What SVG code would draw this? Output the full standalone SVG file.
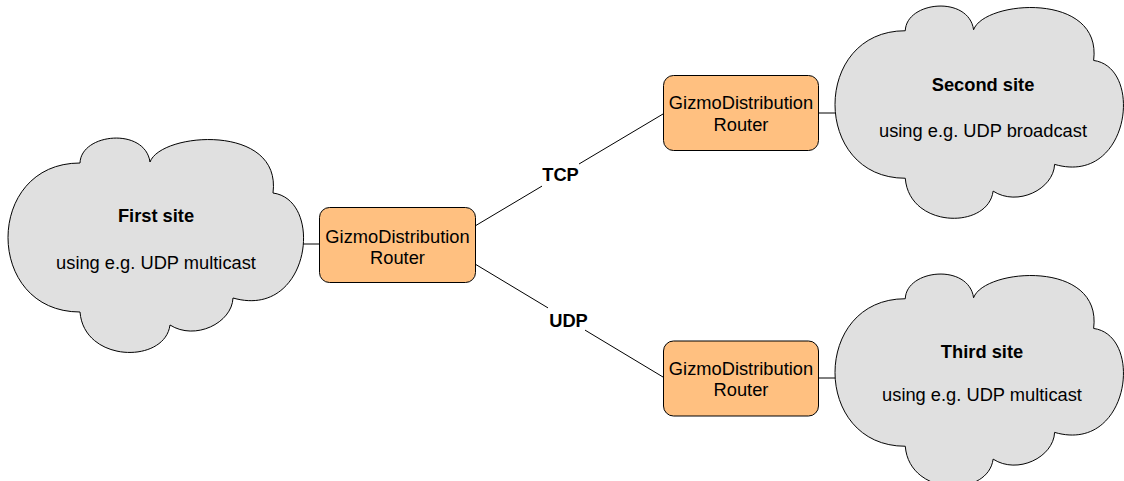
<svg xmlns="http://www.w3.org/2000/svg" width="1124" height="481" viewBox="0 0 1124 481">
  <defs>
    <!-- cloud outline, drawn in the coordinates of the first site -->
    <path id="cloud" d="M80,163 C81,133 145,127 150,162 C161,132 282,123 273,193 C325,200 310,320 233,298 C232,323 195,341 170,325 C165,364 84,363 80,312 C-16,312 -16,163 80,163 Z"/>
  </defs>
  <style>
    .cloud { fill: #e0e0e0; stroke: #000; stroke-width: 1; vector-effect: non-scaling-stroke; }
    .router { fill: #ffc080; stroke: #000; stroke-width: 1; }
    .link { fill: none; stroke: #000; stroke-width: 1; }
    text { font-family: "Liberation Sans", Arial, sans-serif; font-size: 18.3px; fill: #000; text-anchor: middle; }
    .title { font-weight: bold; }
  </style>
  <rect width="1124" height="481" fill="#fff"/>

  <g id="connectors">
    <path class="link" d="M303,244 H319"/>
    <path class="link" d="M475,226 L542,186.1 M579,164 L663,114"/>
    <path class="link" d="M475,264 L548,307.9 M585,330.1 L663,377"/>
    <path class="link" d="M819,113 H835"/>
    <path class="link" d="M819,378 H835"/>
    <text class="title" x="560.5" y="181">TCP</text>
    <text class="title" x="568.5" y="326.5">UDP</text>
  </g>

  <g id="site-first">
    <use href="#cloud" class="cloud"/>
    <text class="title" x="156" y="222">First site</text>
    <text x="156" y="269">using e.g. UDP multicast</text>
  </g>

  <g id="site-second">
    <use href="#cloud" class="cloud" transform="translate(835,5) scale(0.976,0.99) translate(-8,-137)"/>
    <text class="title" x="983" y="90.5">Second site</text>
    <text x="983" y="136.5">using e.g. UDP broadcast</text>
  </g>

  <g id="site-third">
    <use href="#cloud" class="cloud" transform="translate(835,273) scale(0.976,0.99) translate(-8,-137)"/>
    <text class="title" x="982" y="357.5">Third site</text>
    <text x="982" y="401">using e.g. UDP multicast</text>
  </g>

  <g id="router-first">
    <rect class="router" x="319.5" y="207.5" width="156" height="75" rx="10"/>
    <text x="397.5" y="242.5">GizmoDistribution</text>
    <text x="397.5" y="263.5">Router</text>
  </g>

  <g id="router-second">
    <rect class="router" x="663.5" y="75.5" width="155" height="75" rx="10"/>
    <text x="741" y="109">GizmoDistribution</text>
    <text x="741" y="130.5">Router</text>
  </g>

  <g id="router-third">
    <rect class="router" x="663.5" y="341" width="155" height="75" rx="10"/>
    <text x="741" y="374.5">GizmoDistribution</text>
    <text x="741" y="395.5">Router</text>
  </g>
</svg>
